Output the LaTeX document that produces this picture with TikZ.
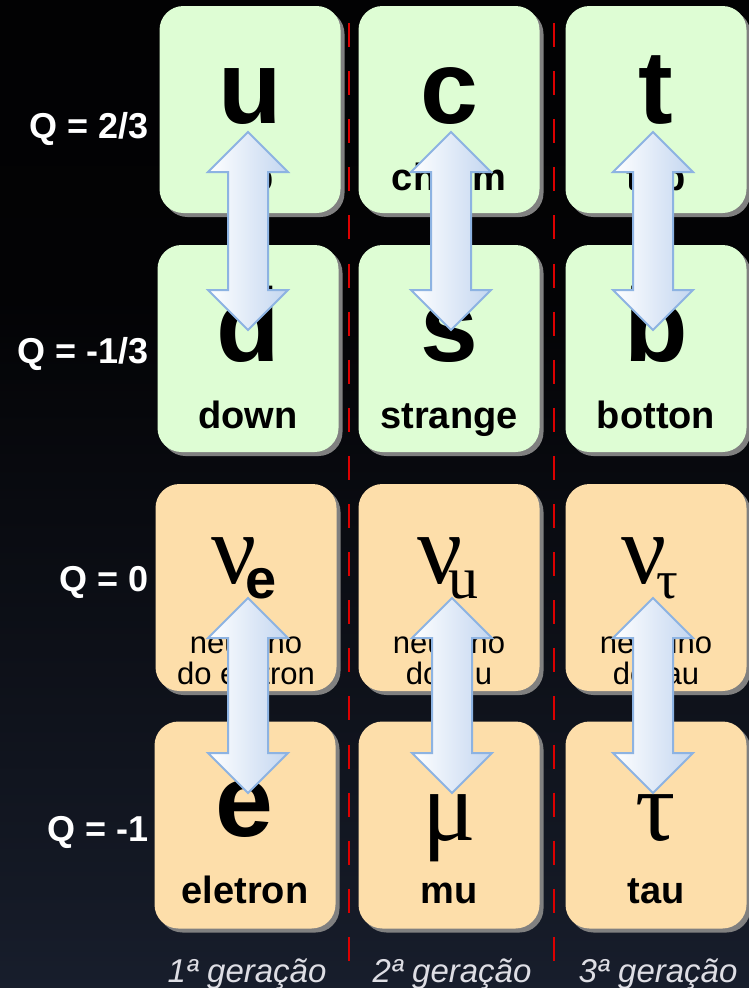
\documentclass[tikz,border=0pt]{standalone}
\usepackage{fontspec}
\setmainfont{Liberation Sans}
\newfontfamily\seriffont{Liberation Serif}
\usetikzlibrary{shadows,calc}
\definecolor{greenbox}{RGB}{222,253,212}
\definecolor{orangebox}{RGB}{253,222,170}
\definecolor{shadowgray}{RGB}{128,128,128}
\definecolor{arrowblue}{RGB}{195,214,240}
\definecolor{arrowedge}{RGB}{141,179,226}
\definecolor{dashred}{RGB}{220,0,0}
\definecolor{bgbot}{RGB}{42,54,80}
\definecolor{bgmid}{RGB}{20,25,37}
\definecolor{bgtop}{RGB}{3,3,5}
\definecolor{gentext}{RGB}{222,222,228}
\pgfdeclareverticalshading{bgshade}{100bp}{color(0bp)=(bgbot); color(30bp)=(bgmid); color(60bp)=(bgtop); color(100bp)=(black)}
\newcommand\fsz[1]{\fontsize{#1}{#1}\selectfont}
\newcommand\dblarr[2]{%
  \filldraw[dblarrow] let \p1=(#1), \p2=(#2) in
    (\x1,\y1) -- (\x1+40pt,\y1-40pt) -- (\x1+20pt,\y1-40pt) -- (\x1+20pt,\y2+40pt)
    -- (\x1+40pt,\y2+40pt) -- (\x1,\y2) -- (\x1-40pt,\y2+40pt) -- (\x1-20pt,\y2+40pt)
    -- (\x1-20pt,\y1-40pt) -- (\x1-40pt,\y1-40pt) -- cycle;}
\begin{document}
\begin{tikzpicture}[x=1pt,y=-1pt,
  pbox/.style={rectangle, rounded corners=24pt, minimum width=181pt, minimum height=207pt,
    inner sep=0pt, general shadow={fill=shadowgray, shadow xshift=4pt, shadow yshift=-4pt}},
  quark/.style={pbox, fill=greenbox},
  lepton/.style={pbox, fill=orangebox},
  big/.style={anchor=base, inner sep=0pt, font=\fsz{104}\bfseries},
  greek/.style={anchor=base, inner sep=0pt, font=\fsz{100}\seriffont},
  lab/.style={anchor=base, inner sep=0pt, font=\fsz{38}\bfseries},
  nlab/.style={anchor=base, inner sep=0pt, font=\fsz{31}},
  qlab/.style={anchor=base east, inner sep=0pt, text=white, font=\fsz{36}\bfseries},
  gen/.style={anchor=base, inner sep=0pt, text=gentext, font=\fsz{33}\itshape},
  sepline/.style={dashred, line width=2pt, dash pattern=on 24pt off 24.1pt},
  dblarrow/.style={left color=white, right color=arrowblue, draw=arrowedge, line width=2pt, line join=miter}
]
\useasboundingbox (0,0) rectangle (749,988);
\shade[shading=bgshade] (0,0) rectangle (749,988);

% separators
\coordinate (s1t) at (349,23); \coordinate (s1b) at (349,962);
\coordinate (s2t) at (554,23); \coordinate (s2b) at (554,962);
\draw[sepline] (s1t) -- (s1b);
\draw[sepline] (s2t) -- (s2b);

% boxes
\node[quark] (bu) at (250,109.5) {};
\node[quark] (bc) at (449,109.5) {};
\node[quark] (bt) at (656,109.5) {};
\node[quark] (bd) at (248,348.5) {};
\node[quark] (bs) at (449,348.5) {};
\node[quark] (bb) at (656,348.5) {};
\node[lepton] (bne) at (246,587.5) {};
\node[lepton] (bnm) at (449,587.5) {};
\node[lepton] (bnt) at (656,587.5) {};
\node[lepton] (be) at (245,825) {};
\node[lepton] (bm) at (449,825) {};
\node[lepton] (bta) at (656,825) {};

% row 1
\node[big] (su) at (250,123) {u};
\node[big] (sc) at (449,123) {c};
\node[big] (st) at (656,123) {t};
\node[lab] (lu) at (250,190) {up};
\node[lab] (lc) at (449,190) {charm};
\node[lab] (lt) at (656,190) {top};
% row 2
\node[big] (sd) at (248,361) {d};
\node[big] (ss) at (449,361) {s};
\node[big] (sb) at (656,361) {b};
\node[lab] (ld) at (248,428) {down};
\node[lab] (ls) at (449,428) {strange};
\node[lab] (lb) at (656,428) {botton};
% row 3
\node[greek] (sne) at (244,583) {ν\kern-12pt\raisebox{-15pt}{\fsz{56}\normalfont\bfseries e}};
\node[greek] (snm) at (448,583) {ν\kern-14pt\raisebox{-15pt}{\fsz{60}u}};
\node[greek] (snt) at (650,583) {ν\kern-10pt\raisebox{-15pt}{\fsz{54}τ}};
\node[nlab] (lne1) at (246,653) {neutrino};
\node[nlab] (lne2) at (246,684) {do eletron};
\node[nlab] (lnm1) at (449,653) {neutrino};
\node[nlab] (lnm2) at (449,684) {do mu};
\node[nlab] (lnt1) at (656,653) {neutrino};
\node[nlab] (lnt2) at (656,684) {do tau};
% row 4
\node[big] (se) at (244,836) {e};
\node[greek] (sm) at (449,840) {μ};
\node[greek] (sta) at (656,840) {τ};
\node[lab] (le) at (245,903) {eletron};
\node[lab] (lm) at (449,903) {mu};
\node[lab] (lta) at (656,903) {tau};

% charge labels
\node[qlab] (q1) at (149,138) {Q = 2/3};
\node[qlab] (q2) at (149,363) {Q = -1/3};
\node[qlab] (q3) at (149,591) {Q = 0};
\node[qlab] (q4) at (149,841) {Q = -1};

% generation labels
\node[gen] (g1) at (247,982) {1ª geração};
\node[gen] (g2) at (452,982) {2ª geração};
\node[gen] (g3) at (658,982) {3ª geração};

% double arrows
\coordinate (a1t) at (248,132); \coordinate (a1b) at (248,330);
\coordinate (a2t) at (451,132); \coordinate (a2b) at (451,330);
\coordinate (a3t) at (653,132); \coordinate (a3b) at (653,330);
\coordinate (a4t) at (248,598); \coordinate (a4b) at (248,793);
\coordinate (a5t) at (452,598); \coordinate (a5b) at (452,793);
\coordinate (a6t) at (653,598); \coordinate (a6b) at (653,793);
\dblarr{a1t}{a1b}
\dblarr{a2t}{a2b}
\dblarr{a3t}{a3b}
\dblarr{a4t}{a4b}
\dblarr{a5t}{a5b}
\dblarr{a6t}{a6b}
\end{tikzpicture}
\end{document}
